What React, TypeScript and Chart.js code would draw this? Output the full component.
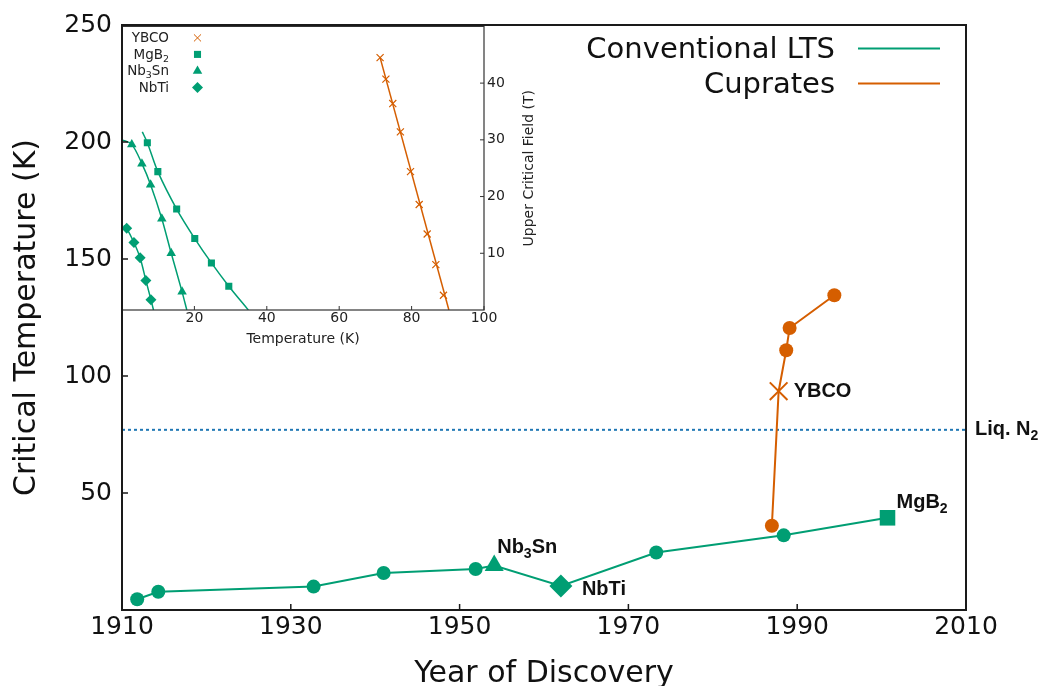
import React, { useEffect, useRef } from 'react';
import { Chart, registerables } from 'chart.js';
import { drawPoint } from 'chart.js/helpers';

Chart.register(...registerables);

const GREEN = '#009E73';
const ORANGE = '#D55E00';
const BLUE = '#1f77b4';

// ---------- main chart data ----------
const yearTicks = [1910, 1930, 1950, 1970, 1990, 2010];
const tcTicks = [50, 100, 150, 200, 250];
const ltsYears = [1911.8, 1914.3, 1932.7, 1941.0, 1951.9, 1954.1, 1962.0, 1973.3, 1988.4, 2000.7];
const ltsTc = [4.6, 7.8, 10.0, 15.8, 17.5, 19.0, 10.3, 24.6, 31.9, 39.4];
const cuprateYears = [1987.0, 1987.8, 1988.7, 1989.1, 1994.4];
const cuprateTc = [36.0, 93.5, 111.0, 120.5, 134.5];
const liqN2Tc = 77;
const seriesNames = ['Conventional LTS', 'Cuprates'];

// ---------- inset data ----------
const insetTTicks = [20, 40, 60, 80, 100];
const insetBTicks = [10, 20, 30, 40];
const ybcoT = [71.3, 72.9, 74.8, 76.9, 79.7, 82.1, 84.3, 86.7, 88.8];
const ybcoB = [44.5, 40.7, 36.4, 31.4, 24.4, 18.6, 13.4, 8.0, 2.6];
const ybcoFitT = [71.3, 90.3];
const ybcoFitB = [44.5, 0];
const mgb2T = [7.0, 9.9, 15.1, 20.1, 24.7, 29.5];
const mgb2B = [29.5, 24.4, 17.8, 12.6, 8.3, 4.2];
const mgb2FitT = [5.6, 7.0, 9.9, 15.1, 20.1, 24.7, 29.5, 34.9];
const mgb2FitB = [31.4, 29.5, 24.4, 17.8, 12.6, 8.3, 4.2, 0];
const nb3snT = [2.7, 5.5, 7.9, 11.0, 13.6, 16.6];
const nb3snB = [29.2, 25.8, 22.1, 16.1, 10.0, 3.2];
const nb3snFitT = [0, 2.7, 5.5, 7.9, 11.0, 13.6, 16.6, 17.9];
const nb3snFitB = [30.0, 29.2, 25.8, 22.1, 16.1, 10.0, 3.2, 0];
const nbtiT = [1.3, 3.3, 5.0, 6.6, 8.0];
const nbtiB = [14.4, 11.9, 9.2, 5.2, 1.8];
const nbtiFitT = [0.5, 1.3, 3.3, 5.0, 6.6, 8.0, 8.7];
const nbtiFitB = [14.9, 14.4, 11.9, 9.2, 5.2, 1.8, 0];
const insetNames = ['YBCO', 'MgB2', 'Nb3Sn', 'NbTi'];

const zip = (xs: number[], ys: number[]) => xs.map((x, i) => ({ x, y: ys[i] }));

type Seg = { t: string; sub?: boolean };
const parseSegs = (s: string): Seg[] => {
  const out: Seg[] = [];
  const re = /(\d+)|([^\d]+)/g;
  let m: RegExpExecArray | null;
  while ((m = re.exec(s))) {
    if (m[1]) out.push({ t: m[1], sub: true });
    else out.push({ t: m[2] });
  }
  return out;
};

function drawRich(
  ctx: CanvasRenderingContext2D,
  segs: Seg[],
  x: number,
  y: number,
  align: 'left' | 'right',
  size: number,
  weight: string,
  family: string,
  subScale = 0.7,
  drop = 0.25
) {
  const f = (s: Seg) => `${weight} ${s.sub ? size * subScale : size}px ${family}`;
  let w = 0;
  for (const s of segs) {
    ctx.font = f(s);
    w += ctx.measureText(s.t).width;
  }
  let cx = align === 'right' ? x - w : x;
  ctx.textAlign = 'left';
  ctx.textBaseline = 'alphabetic';
  for (const s of segs) {
    ctx.font = f(s);
    ctx.fillText(s.t, cx, s.sub ? y + size * drop : y);
    cx += ctx.measureText(s.t).width;
  }
}

const DV = '"DejaVu Sans"';
const LIB = '"Liberation Sans", Arial';

const mainDecor = {
  id: 'mainDecor',
  afterDraw(chart: any) {
    const { ctx, chartArea: a, scales } = chart;
    const xs = scales.x;
    const ys = scales.y;
    ctx.save();
    // frame
    ctx.strokeStyle = '#1a1a1a';
    ctx.lineWidth = 2;
    ctx.strokeRect(a.left, a.top, a.right - a.left, a.bottom - a.top);
    // inward ticks
    ctx.lineWidth = 1.5;
    ctx.beginPath();
    for (const v of yearTicks) {
      const px = xs.getPixelForValue(v);
      ctx.moveTo(px, a.bottom);
      ctx.lineTo(px, a.bottom - 6);
    }
    for (const v of tcTicks) {
      const py = ys.getPixelForValue(v);
      ctx.moveTo(a.left, py);
      ctx.lineTo(a.left + 6, py);
    }
    ctx.stroke();

    // axis titles
    ctx.fillStyle = '#111';
    ctx.font = `30px ${DV}`;
    ctx.textAlign = 'center';
    ctx.textBaseline = 'alphabetic';
    ctx.fillText('Year of Discovery', (a.left + a.right) / 2, a.bottom + 72);
    ctx.save();
    ctx.translate(35, (a.top + a.bottom) / 2);
    ctx.rotate(-Math.PI / 2);
    ctx.fillText('Critical Temperature (K)', 0, 0);
    ctx.restore();

    // legend
    const colors = [GREEN, ORANGE];
    seriesNames.forEach((name, i) => {
      ctx.fillStyle = '#111';
      ctx.font = `29px ${DV}`;
      ctx.textAlign = 'right';
      ctx.fillText(name, a.right - 131, a.top + 33 + i * 35);
      ctx.strokeStyle = colors[i];
      ctx.lineWidth = 2;
      ctx.beginPath();
      const ly = a.top + 23.5 + i * 35;
      ctx.moveTo(a.right - 108, ly);
      ctx.lineTo(a.right - 26, ly);
      ctx.stroke();
    });

    // annotations
    ctx.fillStyle = '#111';
    const ann = (label: string, xv: number, yv: number, dx: number, dy: number) => {
      drawRich(ctx, parseSegs(label), xs.getPixelForValue(xv) + dx, ys.getPixelForValue(yv) + dy, 'left', 20, 'bold', LIB, 0.7, 0.25);
    };
    ann('YBCO', cuprateYears[1], cuprateTc[1], 15, 6);
    ann('MgB2', ltsYears[9], ltsTc[9], 9, -10);
    ann('Nb3Sn', ltsYears[5], ltsTc[5], 3, -13);
    ann('NbTi', ltsYears[6], ltsTc[6], 21, 9);
    drawRich(ctx, parseSegs('Liq. N2'), a.right + 9, ys.getPixelForValue(liqN2Tc) + 5, 'left', 20, 'bold', LIB, 0.7, 0.25);
    ctx.restore();
  },
};

const insetDecor = {
  id: 'insetDecor',
  beforeDraw(chart: any) {
    const { ctx, chartArea: a } = chart;
    ctx.save();
    ctx.fillStyle = '#fff';
    ctx.fillRect(a.left, a.top, a.right - a.left, a.bottom - a.top);
    ctx.restore();
  },
  afterDraw(chart: any) {
    const { ctx, chartArea: a, scales } = chart;
    const xs = scales.x;
    const ys = scales.y;
    ctx.save();
    ctx.strokeStyle = '#333';
    ctx.lineWidth = 1.2;
    ctx.strokeRect(a.left, a.top, a.right - a.left, a.bottom - a.top);
    ctx.lineWidth = 1;
    ctx.beginPath();
    for (const v of insetTTicks) {
      const px = xs.getPixelForValue(v);
      ctx.moveTo(px, a.bottom);
      ctx.lineTo(px, a.bottom - 4);
    }
    for (const v of insetBTicks) {
      const py = ys.getPixelForValue(v);
      ctx.moveTo(a.right, py);
      ctx.lineTo(a.right - 4, py);
    }
    ctx.stroke();

    ctx.fillStyle = '#222';
    ctx.font = `14px ${DV}`;
    ctx.textAlign = 'center';
    ctx.textBaseline = 'alphabetic';
    ctx.fillText('Temperature (K)', (a.left + a.right) / 2, a.bottom + 33);
    ctx.save();
    ctx.translate(a.right + 49, (a.top + a.bottom) / 2);
    ctx.rotate(-Math.PI / 2);
    ctx.fillText('Upper Critical Field (T)', 0, 0);
    ctx.restore();

    // legend
    const styles = ['crossRot', 'rect', 'triangle', 'rectRot'];
    const colors = [ORANGE, GREEN, GREEN, GREEN];
    const radii = [5, 5, 5.5, 5.5];
    insetNames.forEach((name, i) => {
      ctx.fillStyle = '#222';
      drawRich(ctx, parseSegs(name), a.left + 47, a.top + 16 + i * 16.5, 'right', 13.5, 'normal', DV, 0.7, 0.22);
      ctx.fillStyle = colors[i];
      ctx.strokeStyle = colors[i];
      drawPoint(ctx, { pointStyle: styles[i], radius: radii[i], rotation: 0, borderWidth: i === 0 ? 1.2 : 0 } as any, a.left + 75.5, a.top + 11.5 + i * 16.5);
    });
    ctx.restore();
  },
};

export default function App() {
  const mainRef = useRef<HTMLCanvasElement>(null);
  const insetRef = useRef<HTMLCanvasElement>(null);

  useEffect(() => {
    const fitLine = (t: number[], b: number[], color: string, tension: number) => ({
      data: zip(t, b),
      showLine: true,
      borderColor: color,
      borderWidth: 1.5,
      pointRadius: 0,
      tension,
      order: 2,
    });
    const markers = (t: number[], b: number[], color: string, style: string, r: number, bw: number) => ({
      data: zip(t, b),
      showLine: false,
      pointStyle: style,
      pointRadius: r,
      backgroundColor: color,
      borderColor: color,
      pointBorderWidth: bw,
      order: 1,
    });

    const inset = new Chart(insetRef.current as HTMLCanvasElement, {
      type: 'scatter',
      data: {
        datasets: [
          fitLine(ybcoFitT, ybcoFitB, ORANGE, 0),
          fitLine(mgb2FitT, mgb2FitB, GREEN, 0.3),
          fitLine(nb3snFitT, nb3snFitB, GREEN, 0.3),
          fitLine(nbtiFitT, nbtiFitB, GREEN, 0.3),
          markers(ybcoT, ybcoB, ORANGE, 'crossRot', 5, 1.2),
          markers(mgb2T, mgb2B, GREEN, 'rect', 5, 0),
          markers(nb3snT, nb3snB, GREEN, 'triangle', 5.5, 0),
          markers(nbtiT, nbtiB, GREEN, 'rectRot', 5.5, 0),
        ] as any,
      },
      options: {
        responsive: false,
        animation: false,
        devicePixelRatio: 1,
        layout: { padding: { left: 22, top: 5, right: 0, bottom: 0 } },
        plugins: { legend: { display: false }, tooltip: { enabled: false } },
        scales: {
          x: {
            type: 'linear',
            min: 0,
            max: 100,
            afterBuildTicks: (s: any) => {
              s.ticks = insetTTicks.map((v) => ({ value: v }));
            },
            afterFit: (s: any) => {
              s.height = 45;
            },
            grid: { display: false, drawTicks: false },
            border: { display: false },
            ticks: { font: { family: 'DejaVu Sans', size: 14 }, color: '#222', padding: 0, maxRotation: 0, autoSkip: false },
          },
          y: {
            type: 'linear',
            position: 'right',
            min: 0,
            max: 50,
            afterBuildTicks: (s: any) => {
              s.ticks = insetBTicks.map((v) => ({ value: v }));
            },
            afterFit: (s: any) => {
              s.width = 76;
            },
            grid: { display: false, drawTicks: false },
            border: { display: false },
            ticks: { font: { family: 'DejaVu Sans', size: 14 }, color: '#222', padding: 3 },
          },
        },
      } as any,
      plugins: [insetDecor],
    });

    const ltsStyles = ['circle', 'circle', 'circle', 'circle', 'circle', 'triangle', 'rectRot', 'circle', 'circle', 'rect'];
    const ltsRadius = [7, 7, 7, 7, 7, 11, 11.5, 7, 7, 11];
    const cupStyles = ['circle', 'crossRot', 'circle', 'circle', 'circle'];
    const cupRadius = [7, 12.5, 7, 7, 7];
    const cupBorder = [0, 2, 0, 0, 0];

    const main = new Chart(mainRef.current as HTMLCanvasElement, {
      type: 'scatter',
      data: {
        datasets: [
          {
            label: seriesNames[0],
            data: zip(ltsYears, ltsTc),
            showLine: true,
            borderColor: GREEN,
            backgroundColor: GREEN,
            borderWidth: 2,
            pointStyle: ltsStyles,
            pointRadius: ltsRadius,
            pointBorderWidth: 0,
            tension: 0,
          },
          {
            label: seriesNames[1],
            data: zip(cuprateYears, cuprateTc),
            showLine: true,
            borderColor: ORANGE,
            backgroundColor: ORANGE,
            borderWidth: 2,
            pointStyle: cupStyles,
            pointRadius: cupRadius,
            pointBorderWidth: cupBorder,
            tension: 0,
          },
          {
            label: 'Liq. N2',
            data: [
              { x: yearTicks[0], y: liqN2Tc },
              { x: yearTicks[yearTicks.length - 1], y: liqN2Tc },
            ],
            showLine: true,
            borderColor: BLUE,
            borderWidth: 2,
            borderDash: [3, 3],
            pointRadius: 0,
          },
        ] as any,
      },
      options: {
        responsive: false,
        animation: false,
        devicePixelRatio: 1,
        layout: { padding: { left: 0, right: 77, top: 20, bottom: 0 } },
        plugins: { legend: { display: false }, tooltip: { enabled: false } },
        scales: {
          x: {
            type: 'linear',
            min: yearTicks[0],
            max: yearTicks[yearTicks.length - 1],
            afterBuildTicks: (s: any) => {
              s.ticks = yearTicks.map((v) => ({ value: v }));
            },
            afterFit: (s: any) => {
              s.height = 76;
            },
            grid: { display: false, drawTicks: false },
            border: { display: false },
            ticks: {
              font: { family: 'DejaVu Sans', size: 25 },
              color: '#111',
              padding: 2,
              maxRotation: 0,
              autoSkip: false,
              callback: (v: any) => String(v),
            },
          },
          y: {
            type: 'linear',
            min: 0,
            max: tcTicks[tcTicks.length - 1],
            afterBuildTicks: (s: any) => {
              s.ticks = tcTicks.map((v) => ({ value: v }));
            },
            afterFit: (s: any) => {
              s.width = 122;
            },
            grid: { display: false, drawTicks: false },
            border: { display: false },
            ticks: { font: { family: 'DejaVu Sans', size: 25 }, color: '#111', padding: 10 },
          },
        },
      } as any,
      plugins: [mainDecor],
    });

    return () => {
      main.destroy();
      inset.destroy();
    };
  }, []);

  return (
    <div style={{ position: 'absolute', left: 0, top: 0, width: 1043, height: 686, background: '#fff' }}>
      <canvas
        ref={insetRef}
        width={460}
        height={340}
        style={{ position: 'absolute', left: 100, top: 15, width: 460, height: 340 }}
      />
      <canvas
        ref={mainRef}
        width={1043}
        height={686}
        style={{ position: 'absolute', left: 0, top: 0, width: 1043, height: 686 }}
      />
    </div>
  );
}
